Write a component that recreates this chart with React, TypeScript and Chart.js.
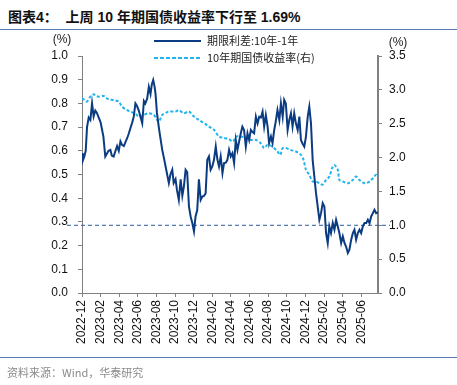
import React, { useEffect, useRef } from "react";
import { Chart, registerables } from "chart.js";
Chart.register(...registerables);

// x values: months since 2022-12-01
const xTickMonths = [0, 2, 4, 6, 8, 10, 12, 14, 16, 18, 20, 22, 24, 26, 28, 30];
const xTickLabels = [
  "2022-12", "2023-02", "2023-04", "2023-06", "2023-08", "2023-10", "2023-12", "2024-02",
  "2024-04", "2024-06", "2024-08", "2024-10", "2024-12", "2025-02", "2025-04", "2025-06",
];
const xMax = 31.8;

const spreadMonths = [
  0, 0.1, 0.25, 0.4, 0.54, 0.72, 0.9, 1.08, 1.25, 1.43, 1.6, 1.8, 2.0, 2.15, 2.3, 2.5, 2.7, 2.85,
  3.05, 3.2, 3.4, 3.6, 3.77, 3.95, 4.13, 4.3, 4.5, 4.7, 4.85, 5.0, 5.2, 5.4, 5.56, 5.74, 5.9, 6.1,
  6.3, 6.47, 6.65, 6.8, 7.0, 7.18, 7.36, 7.5, 7.65, 7.8, 7.9, 8.05, 8.25, 8.4, 8.62, 8.8, 8.98,
  9.15, 9.33, 9.5, 9.7, 9.85, 10.05, 10.2, 10.4, 10.6, 10.78, 10.95, 11.13, 11.3, 11.49, 11.67,
  11.85, 12.03, 12.2, 12.38, 12.56, 12.75, 12.93, 13.1, 13.28, 13.46, 13.64, 13.82, 14.0, 14.18,
  14.37, 14.55, 14.72, 14.9, 15.09, 15.26, 15.45, 15.62, 15.8, 15.98, 16.16, 16.34, 16.52, 16.7,
  16.88, 17.06, 17.23, 17.41, 17.6, 17.78, 17.96, 18.14, 18.3, 18.49, 18.68, 18.86, 19.04, 19.22,
  19.4, 19.57, 19.75, 19.94, 20.1, 20.3, 20.47, 20.65, 20.8, 21.0, 21.2, 21.37, 21.56, 21.72, 21.9,
  22.09, 22.27, 22.45, 22.62, 22.8, 22.98, 23.17, 23.35, 23.52, 23.7, 23.88, 24.06, 24.25, 24.42,
  24.6, 24.78, 24.96, 25.14, 25.32, 25.5, 25.68, 25.86, 26.04, 26.22, 26.4, 26.57, 26.75, 26.94,
  27.12, 27.3, 27.48, 27.65, 27.84, 28.02, 28.2, 28.37, 28.56, 28.73, 28.92, 29.1, 29.27, 29.45,
  29.63, 29.81, 29.99, 30.17, 30.35, 30.53, 30.71, 30.89, 31.07, 31.25, 31.42, 31.6, 31.8,
];
const spreadValues = [
  0.59, 0.56, 0.576, 0.6, 0.7, 0.74, 0.73, 0.8, 0.745, 0.77, 0.76, 0.74, 0.72, 0.69, 0.66, 0.576,
  0.59, 0.6, 0.604, 0.58, 0.576, 0.6, 0.62, 0.6, 0.64, 0.625, 0.62, 0.64, 0.653, 0.67, 0.695, 0.72,
  0.744, 0.8, 0.79, 0.77, 0.74, 0.716, 0.81, 0.8, 0.82, 0.87, 0.84, 0.88, 0.899, 0.87, 0.84, 0.76,
  0.7, 0.66, 0.604, 0.57, 0.534, 0.5, 0.464, 0.5, 0.52, 0.464, 0.48, 0.435, 0.393, 0.48, 0.41,
  0.45, 0.52, 0.51, 0.365, 0.323, 0.295, 0.26, 0.323, 0.35, 0.48, 0.393, 0.407, 0.41, 0.42, 0.562,
  0.576, 0.52, 0.534, 0.562, 0.618, 0.562, 0.534, 0.576, 0.506, 0.548, 0.55, 0.562, 0.604, 0.576,
  0.59, 0.548, 0.646, 0.604, 0.64, 0.674, 0.702, 0.688, 0.618, 0.674, 0.646, 0.688, 0.68, 0.674,
  0.744, 0.716, 0.744, 0.74, 0.765, 0.702, 0.75, 0.702, 0.632, 0.66, 0.632, 0.688, 0.72, 0.772,
  0.73, 0.8, 0.744, 0.815, 0.8, 0.688, 0.73, 0.758, 0.702, 0.758, 0.716, 0.688, 0.744, 0.646, 0.63,
  0.618, 0.66, 0.744, 0.786, 0.716, 0.562, 0.491, 0.421, 0.365, 0.309, 0.337, 0.379, 0.365, 0.253,
  0.211, 0.281, 0.253, 0.295, 0.267, 0.309, 0.281, 0.253, 0.211, 0.239, 0.211, 0.196, 0.169, 0.183,
  0.225, 0.253, 0.267, 0.225, 0.253, 0.267, 0.253, 0.281, 0.295, 0.295, 0.309, 0.295, 0.323, 0.337,
  0.351, 0.337, 0.34,
];

const yieldMonths = [
  0, 0.3, 0.54, 0.9, 1.25, 1.5, 1.8, 2.33, 2.6, 2.87, 3.4, 3.95, 4.31, 4.85, 5.2, 5.56, 5.8, 6.1,
  6.64, 7.18, 7.72, 8.0, 8.25, 8.62, 9.0, 9.33, 10.05, 10.4, 10.95, 11.49, 12.03, 12.56, 13.1,
  13.64, 14.18, 14.72, 15.26, 15.8, 16.23, 16.52, 17.06, 17.6, 18.14, 18.68, 19.22, 19.57, 19.94,
  20.47, 21.0, 21.3, 21.56, 21.9, 22.45, 22.98, 23.52, 23.8, 24.06, 24.42, 24.78, 25.14, 25.5,
  25.86, 26.22, 26.57, 26.94, 27.12, 27.48, 27.65, 28.02, 28.56, 29.1, 29.45, 29.81, 30.35, 30.89,
  31.25, 31.6, 31.8,
];
const yieldValues = [
  2.876, 2.85, 2.826, 2.9, 2.935, 2.91, 2.9, 2.91, 2.88, 2.86, 2.85, 2.826, 2.75, 2.7, 2.68, 2.655,
  2.64, 2.605, 2.63, 2.655, 2.63, 2.57, 2.53, 2.63, 2.66, 2.68, 2.68, 2.7, 2.655, 2.68, 2.605,
  2.556, 2.51, 2.457, 2.41, 2.31, 2.29, 2.27, 2.236, 2.31, 2.31, 2.29, 2.26, 2.26, 2.21, 2.14,
  2.19, 2.16, 2.09, 2.04, 2.14, 2.14, 2.11, 2.09, 2.04, 1.966, 1.82, 1.745, 1.646, 1.646, 1.62,
  1.6, 1.67, 1.72, 1.867, 1.89, 1.82, 1.67, 1.646, 1.62, 1.67, 1.72, 1.67, 1.62, 1.646, 1.695,
  1.745, 1.69,
];

const refLineValue = 1.0; // on right axis

const SPREAD_COLOR = "#0b3b80";
const YIELD_COLOR = "#1fb4ee";
const AXIS_COLOR = "#808080";
const TICK_FONT = { family: "'Liberation Sans', Arial, sans-serif", size: 12 };

const decorPlugin = {
  id: "decor",
  beforeDatasetsDraw(chart: any) {
    const { ctx, chartArea, scales } = chart;
    const y = scales.yR.getPixelForValue(refLineValue);
    ctx.save();
    ctx.strokeStyle = "#2d5a9a";
    ctx.lineWidth = 1;
    ctx.setLineDash([4, 3]);
    ctx.beginPath();
    ctx.moveTo(chartArea.left - 15, y);
    ctx.lineTo(chartArea.right + 12, y);
    ctx.stroke();
    ctx.restore();
  },
  afterDraw(chart: any) {
    const { ctx } = chart;
    ctx.save();
    // legend
    ctx.lineWidth = 2;
    ctx.strokeStyle = SPREAD_COLOR;
    ctx.setLineDash([]);
    ctx.beginPath();
    ctx.moveTo(154, 41);
    ctx.lineTo(201, 41);
    ctx.stroke();
    ctx.strokeStyle = YIELD_COLOR;
    ctx.setLineDash([4, 2]);
    ctx.beginPath();
    ctx.moveTo(154, 58);
    ctx.lineTo(201, 58);
    ctx.stroke();
    ctx.setLineDash([]);
    ctx.fillStyle = "#222";
    ctx.font = "11px 'Noto Sans CJK SC', sans-serif";
    ctx.textBaseline = "middle";
    ctx.textAlign = "left";
    ctx.fillText("期限利差:10年-1年", 207, 41);
    ctx.fillText("10年期国债收益率(右)", 207, 58);
    ctx.font = "12px 'Liberation Sans', Arial, sans-serif";
    ctx.textAlign = "center";
    ctx.fillText("(%)", 62, 40);
    ctx.fillText("(%)", 398, 43);
    ctx.restore();
  },
};

export default function App() {
  const ref = useRef<HTMLCanvasElement>(null);
  useEffect(() => {
    document.body.style.margin = "0";
    const canvas = ref.current!;
    const chart = new Chart(canvas, {
      type: "line",
      data: {
        datasets: [
          {
            label: "期限利差:10年-1年",
            data: spreadMonths.map((m, i) => ({ x: m, y: spreadValues[i] })),
            borderColor: SPREAD_COLOR,
            borderWidth: 2,
            pointRadius: 0,
            tension: 0,
            yAxisID: "yL",
          },
          {
            label: "10年期国债收益率(右)",
            data: yieldMonths.map((m, i) => ({ x: m, y: yieldValues[i] })),
            borderColor: YIELD_COLOR,
            borderWidth: 2,
            borderDash: [3, 2],
            pointRadius: 0,
            tension: 0.3,
            yAxisID: "yR",
          },
        ],
      },
      options: {
        responsive: false,
        animation: false,
        layout: { padding: { left: 42, right: 39, top: 56, bottom: 32 } },
        plugins: { legend: { display: false }, tooltip: { enabled: false } },
        scales: {
          x: {
            type: "linear",
            min: 0,
            max: xMax,
            afterBuildTicks: (s: any) => {
              s.ticks = xTickMonths.map((v) => ({ value: v }));
            },
            afterFit: (s: any) => {
              s.height = 60;
            },
            ticks: {
              autoSkip: false,
              maxRotation: 90,
              minRotation: 90,
              padding: 3,
              color: "#111",
              font: TICK_FONT,
              callback: (v: any) => {
                const i = xTickMonths.indexOf(Number(v));
                return i >= 0 ? xTickLabels[i] : "";
              },
            },
            grid: { drawOnChartArea: false, drawTicks: true, tickLength: 4, color: AXIS_COLOR },
            border: { display: true, color: AXIS_COLOR, width: 1 },
          },
          yL: {
            position: "left",
            min: 0,
            max: 1.0,
            afterFit: (s: any) => {
              s.width = 40;
            },
            ticks: {
              stepSize: 0.1,
              padding: 10,
              color: "#111",
              font: TICK_FONT,
              callback: (v: any) => Number(v).toFixed(1),
            },
            grid: { drawOnChartArea: false, drawTicks: true, tickLength: 4, color: AXIS_COLOR },
            border: { display: true, color: AXIS_COLOR, width: 1 },
          },
          yR: {
            position: "right",
            min: 0,
            max: 3.5,
            afterFit: (s: any) => {
              s.width = 40;
            },
            ticks: {
              stepSize: 0.5,
              padding: 7,
              color: "#111",
              font: TICK_FONT,
              callback: (v: any) => Number(v).toFixed(1),
            },
            grid: { drawOnChartArea: false, drawTicks: true, tickLength: 4, color: AXIS_COLOR },
            border: { display: true, color: AXIS_COLOR, width: 2 },
          },
        },
      },
      plugins: [decorPlugin],
    } as any);
    return () => chart.destroy();
  }, []);

  return (
    <div style={{ position: "relative", width: 457, height: 385, background: "#fff", overflow: "hidden" }}>
      <div
        style={{
          position: "absolute",
          left: 8,
          top: 7,
          fontFamily: "'Liberation Sans', 'Noto Sans CJK SC', sans-serif",
          fontWeight: "bold",
          fontSize: 14,
          lineHeight: "20px",
          color: "#111",
          whiteSpace: "pre",
        }}
      >
        图表4：  上周 10 年期国债收益率下行至 1.69%
      </div>
      <div style={{ position: "absolute", left: 0, top: 29, width: 457, height: 0, borderTop: "1px solid #5b7bb0" }} />
      <canvas ref={ref} width={457} height={385} style={{ position: "absolute", left: 0, top: 0, width: 457, height: 385 }} />
      <div style={{ position: "absolute", left: 0, top: 357, width: 457, height: 0, borderTop: "1px solid #5b7bb0" }} />
      <div
        style={{
          position: "absolute",
          left: 7,
          top: 364,
          fontFamily: "'Noto Sans CJK SC', 'Liberation Sans', sans-serif",
          fontSize: 11,
          lineHeight: "16px",
          color: "#8a8a8a",
          whiteSpace: "pre",
        }}
      >
        资料来源：Wind，华泰研究
      </div>
    </div>
  );
}
